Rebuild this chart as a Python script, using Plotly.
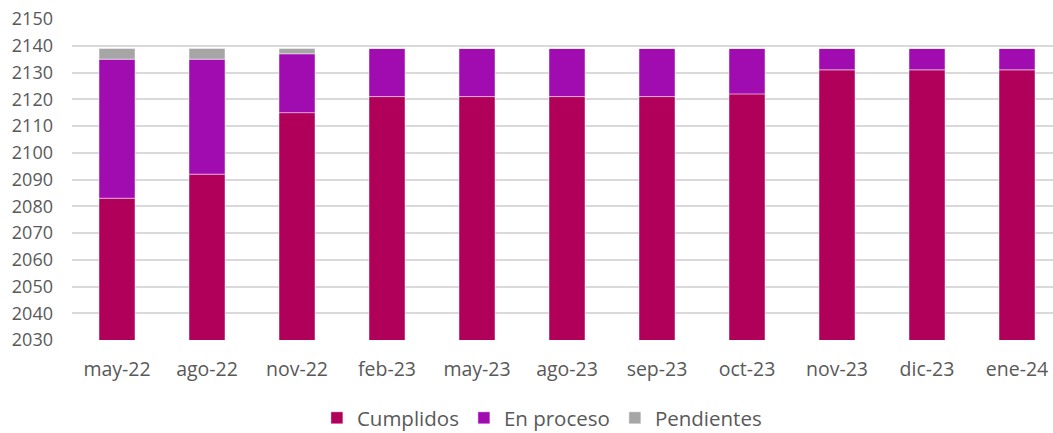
import plotly.graph_objects as go

categories = ["may-22", "ago-22", "nov-22", "feb-23", "may-23", "ago-23",
              "sep-23", "oct-23", "nov-23", "dic-23", "ene-24"]
cumplidos = [2083, 2092, 2115, 2121, 2121, 2121, 2121, 2122, 2131, 2131, 2131]
en_proceso = [52, 43, 22, 18, 18, 18, 18, 17, 8, 8, 8]
pendientes = [4, 4, 2, 0, 0, 0, 0, 0, 0, 0, 0]
y_ticks = list(range(2030, 2151, 10))

base1 = cumplidos
base2 = [c + e for c, e in zip(cumplidos, en_proceso)]

fig = go.Figure()
line = dict(color="rgba(255,255,255,0.45)", width=1)
fig.add_trace(go.Bar(x=categories, y=cumplidos, name="Cumplidos",
                     marker=dict(color="#B0005A", line=line)))
fig.add_trace(go.Bar(x=categories, y=en_proceso, base=base1, name="En proceso",
                     marker=dict(color="#A00CB0", line=line)))
fig.add_trace(go.Bar(x=categories, y=pendientes, base=base2, name="Pendientes",
                     marker=dict(color="#A6A6A6", line=line)))

font = "Open Sans, Liberation Sans, sans-serif"
fig.update_layout(
    width=1053, height=433,
    margin=dict(l=72, r=0, t=19, b=93, autoexpand=False),
    barmode="overlay",
    bargap=0.6,
    plot_bgcolor="white", paper_bgcolor="white",
    font=dict(family=font, color="#595959"),
    showlegend=True,
    legend=dict(orientation="h", x=0.479, xanchor="center",
                yref="container", y=15 / 433, yanchor="middle",
                font=dict(size=20.5, color="#595959"), traceorder="normal",
                itemwidth=30),
    xaxis=dict(type="category", range=[-0.5, 10.4], showgrid=False,
               showline=False, ticks="", tickfont=dict(size=19.5),
               ticklabelstandoff=15, automargin=False),
    yaxis=dict(range=[2030, 2150], tickvals=y_ticks, showgrid=True,
               gridcolor="#D9D9D9", gridwidth=1.5, zeroline=False,
               showline=False, ticks="", tickfont=dict(size=18),
               ticklabelstandoff=18, automargin=False),
)
fig.write_html("out.html", config={"displayModeBar": False},
               post_script="document.body.style.margin='0';")
